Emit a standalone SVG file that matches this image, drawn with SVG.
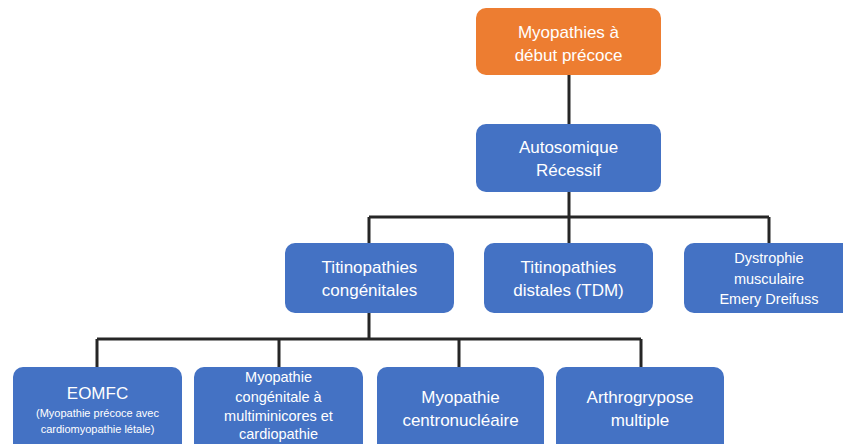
<svg xmlns="http://www.w3.org/2000/svg" width="843" height="444" viewBox="0 0 843 444">
<style>
.b{fill:#4472C4}
.o{fill:#ED7D31}
.t{fill:#ffffff;font-family:"Liberation Sans","Noto Sans",sans-serif;text-anchor:middle}
.l{font-size:17px}
.m{font-size:14.5px}
.s{font-size:11px}
.c{stroke:#262626;stroke-width:3;fill:none}
</style>
<rect width="843" height="444" fill="#ffffff"/>
<g id="connectors">
<path class="c" d="M569 75V124M569 192V217M369 217H769M369 217V243M569 217V243M769 217V243M369 313V339M97 339H641M97 339V367M279 339V367M459 339V367M641 339V367"/>
</g>
<g id="n-root">
<rect class="o" x="476" y="8" width="185" height="67" rx="10"/>
<text class="t l" x="568.5" y="38">Myopathies à</text>
<text class="t l" x="568.5" y="61">début précoce</text>
</g>
<g id="n-ar">
<rect class="b" x="476" y="124" width="185" height="68" rx="10"/>
<text class="t l" x="568.5" y="153">Autosomique</text>
<text class="t l" x="568.5" y="176">Récessif</text>
</g>
<g id="n-tc">
<rect class="b" x="285" y="243" width="169" height="70" rx="10"/>
<text class="t l" x="369.5" y="273">Titinopathies</text>
<text class="t l" x="369.5" y="296">congénitales</text>
</g>
<g id="n-td">
<rect class="b" x="484" y="243" width="169" height="70" rx="10"/>
<text class="t l" x="568.5" y="273">Titinopathies</text>
<text class="t l" x="568.5" y="296">distales (TDM)</text>
</g>
<g id="n-ed">
<rect class="b" x="684" y="243" width="170" height="70" rx="10"/>
<text class="t m" x="769" y="263">Dystrophie</text>
<text class="t m" x="769" y="284">musculaire</text>
<text class="t m" x="769" y="304">Emery Dreifuss</text>
</g>
<g id="n-eomfc">
<rect class="b" x="13" y="367" width="169" height="95" rx="10"/>
<text class="t l" x="97.5" y="399">EOMFC</text>
<text class="t s" x="97.5" y="417">(Myopathie précoce avec</text>
<text class="t s" x="97.5" y="433">cardiomyopathie létale)</text>
</g>
<g id="n-mmc">
<rect class="b" x="194" y="367" width="169" height="95" rx="10"/>
<text class="t m" x="278.5" y="382">Myopathie</text>
<text class="t m" x="278.5" y="402">congénitale à</text>
<text class="t m" x="278.5" y="421">multiminicores et</text>
<text class="t m" x="278.5" y="439">cardiopathie</text>
</g>
<g id="n-cn">
<rect class="b" x="377" y="367" width="167" height="95" rx="10"/>
<text class="t l" x="460.5" y="403">Myopathie</text>
<text class="t l" x="460.5" y="426">centronucléaire</text>
</g>
<g id="n-am">
<rect class="b" x="556" y="367" width="168" height="95" rx="10"/>
<text class="t l" x="640" y="403">Arthrogrypose</text>
<text class="t l" x="640" y="426">multiple</text>
</g>
</svg>
